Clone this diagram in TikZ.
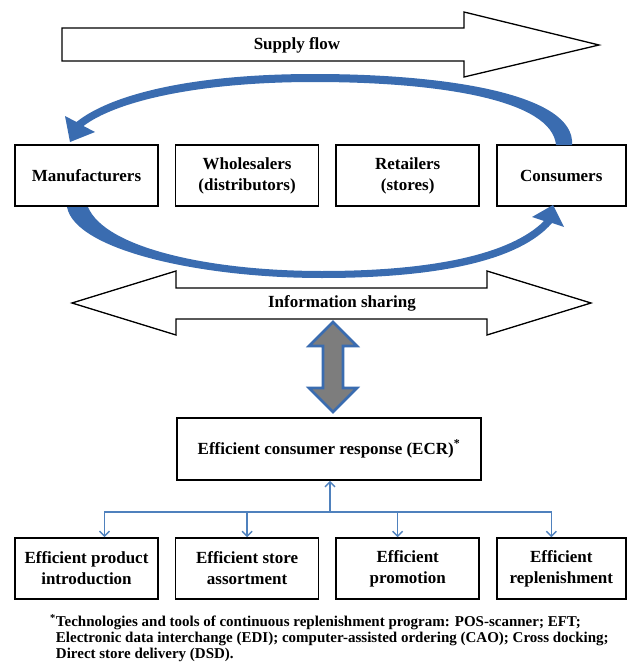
\documentclass[tikz,border=0pt]{standalone}
\usepackage{fontspec}
\setmainfont{Liberation Serif}
\usetikzlibrary{positioning, arrows.meta}
\definecolor{loopblue}{RGB}{58,108,176}
\definecolor{treeblue}{RGB}{79,129,189}
\definecolor{linkgray}{RGB}{125,125,125}
\tikzset{
	chainbox/.style={draw, line width=1.6pt, minimum width=143pt, minimum height=61pt, align=center, inner sep=2pt, font=\fontsize{17}{21}\selectfont\bfseries},
	bigarrow/.style={draw, line width=1.3pt, fill=white, line join=miter},
	flowlabel/.style={font=\fontsize{17}{21}\selectfont\bfseries},
	tree/.style={treeblue, line width=1.4pt, -{Straight Barb[length=5pt,width=10pt]}}
}

\begin{document}
\begin{tikzpicture}
			[x=1pt, y=-1pt, node distance=16pt]
		\useasboundingbox (0,0) rectangle (631,669);

		% big arrows %
		\draw[bigarrow] (62,28) -- (464,28) -- (464,12) -- (599,45) -- (464,77) -- (464,61) -- (62,61) -- cycle;
		\draw[bigarrow] (72,303) -- (176,271) -- (176,288) -- (487,288) -- (487,271) -- (591,303)
			-- (487,335) -- (487,319) -- (176,319) -- (176,335) -- cycle;
		\draw[line width=2.6pt, draw=loopblue, fill=linkgray, line join=miter]
			(333,322) -- (357,346) -- (343,346) -- (343,388) -- (357,388) -- (333,412)
			-- (309,388) -- (323,388) -- (323,346) -- (309,346) -- cycle;

		% nodes %
		\node[flowlabel] (supply) at (297,45) {Supply flow};
		\node[flowlabel] (info) at (342,303) {Information sharing};

		\node[chainbox] (manu) at (86.5,175.5) {Manufacturers};
		\node[chainbox, right = of manu] (whole) {Wholesalers\\(distributors)};
		\node[chainbox, right = of whole] (retail) {Retailers\\(stores)};
		\node[chainbox, right = of retail, minimum width=129pt] (cons) {Consumers};

		\node[chainbox, minimum width=304pt, minimum height=62pt] (ecr) at (329,449) {Efficient consumer response (ECR)\textsuperscript{*}};

		\node[chainbox] (intro) at (86.5,568.5) {Efficient product\\introduction};
		\node[chainbox, right = of intro] (assort) {Efficient store\\assortment};
		\node[chainbox, right = of assort] (promo) {Efficient\\promotion};
		\node[chainbox, right = of promo, minimum width=129pt] (replen) {Efficient\\replenishment};

		\node[anchor=north west, align=left, inner sep=0pt, font=\fontsize{15}{16}\selectfont\bfseries] (note) at (50,614)
			{\textsuperscript{*}Technologies and tools of continuous replenishment program: POS-scanner; EFT;\\
			\phantom{\textsuperscript{*}}Electronic data interchange (EDI); computer-assisted ordering (CAO); Cross docking;\\
			\phantom{\textsuperscript{*}}Direct store delivery (DSD).};

		% loops %
		\fill[loopblue] (572,145) .. controls (576,95) and (450,74) .. (314,74)
			.. controls (190,74) and (110,95) .. (76.5,122) -- (65,116) -- (70,142) -- (95,132) -- (83.5,126)
			.. controls (115,102) and (195,82) .. (314,82) .. controls (440,82) and (552,100) .. (556,145) -- cycle;
		\fill[loopblue] (67,207) .. controls (75,250) and (200,278) .. (322,278)
			.. controls (440,278) and (520,260) .. (552,223) -- (564,227) -- (553,205) -- (532,217) -- (544,221)
			.. controls (510,255) and (430,271) .. (322,271) .. controls (210,271) and (105,248) .. (88,207) -- cycle;

		% edges %
		\coordinate (hub) at (330,512);
		\draw[tree] (hub) -- (ecr.south -| hub);
		\draw[tree] (hub) -| ([xshift=18pt]intro.north);
		\draw[tree] (hub) -| (assort.north);
		\draw[tree] (hub) -| ([xshift=-10pt]promo.north);
		\draw[tree] (hub) -| ([xshift=-10pt]replen.north);
		\end{tikzpicture}
\end{document}
